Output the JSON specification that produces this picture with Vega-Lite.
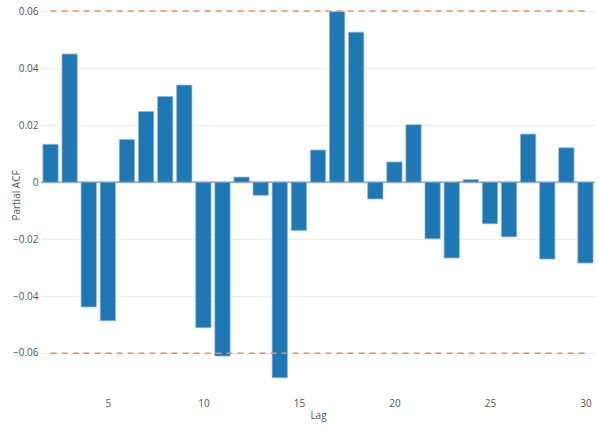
{
  "$schema": "https://vega.github.io/schema/vega-lite/v6.json",
  "autosize": {"type": "none"},
  "width": 554,
  "height": 390,
  "padding": {"left": 41, "top": 0, "right": 5, "bottom": 40},
  "background": "white",
  "config": {
    "view": {"stroke": null},
    "font": "Open Sans",
    "axis": {"labelColor": "#555", "titleColor": "#555", "labelFontSize": 10, "titleFontSize": 10, "titleFontWeight": "normal", "domain": false, "ticks": false}
  },
  "datasets": {
    "pacf": [
      {"lag": 2, "value": 0.0133},
      {"lag": 3, "value": 0.045},
      {"lag": 4, "value": -0.0438},
      {"lag": 5, "value": -0.0487},
      {"lag": 6, "value": 0.015},
      {"lag": 7, "value": 0.0248},
      {"lag": 8, "value": 0.0301},
      {"lag": 9, "value": 0.0341},
      {"lag": 10, "value": -0.0511},
      {"lag": 11, "value": -0.0611},
      {"lag": 12, "value": 0.0018},
      {"lag": 13, "value": -0.0046},
      {"lag": 14, "value": -0.0687},
      {"lag": 15, "value": -0.017},
      {"lag": 16, "value": 0.0113},
      {"lag": 17, "value": 0.0599},
      {"lag": 18, "value": 0.0527},
      {"lag": 19, "value": -0.0059},
      {"lag": 20, "value": 0.0071},
      {"lag": 21, "value": 0.0202},
      {"lag": 22, "value": -0.0199},
      {"lag": 23, "value": -0.0266},
      {"lag": 24, "value": 0.0009},
      {"lag": 25, "value": -0.0146},
      {"lag": 26, "value": -0.0192},
      {"lag": 27, "value": 0.0169},
      {"lag": 28, "value": -0.027},
      {"lag": 29, "value": 0.0121},
      {"lag": 30, "value": -0.0284}
    ],
    "bounds": [
      {"start": 2, "end": 30, "y": 0.0601},
      {"start": 2, "end": 30, "y": -0.0601}
    ],
    "zero": [{"y": 0}]
  },
  "layer": [
    {
      "data": {"name": "zero"},
      "mark": {"type": "rule", "color": "#b0b0b0", "strokeWidth": 2},
      "encoding": {
        "y": {"field": "y", "type": "quantitative", "scale": {"domain": [-0.073, 0.064], "nice": false}}
      }
    },
    {
      "data": {"name": "pacf"},
      "mark": {"type": "bar", "size": 15.3, "color": "#1f77b4", "stroke": "#8fb8dc", "strokeWidth": 0.7},
      "encoding": {
        "x": {"field": "lag", "type": "quantitative", "title": "Lag",
              "scale": {"domain": [1.5, 30.5], "nice": false, "zero": false, "padding": 0},
              "axis": {"values": [5, 10, 15, 20, 25, 30], "grid": false, "labelPadding": 8, "titlePadding": 2}},
        "y": {"field": "value", "type": "quantitative", "title": "Partial ACF",
              "scale": {"domain": [-0.073, 0.064], "nice": false, "padding": 0},
              "axis": {"values": [-0.06, -0.04, -0.02, 0, 0.02, 0.04, 0.06], "format": ".2~f", "gridColor": "#eeeeee", "labelPadding": 3, "titlePadding": -9}}
      }
    },
    {
      "data": {"name": "bounds"},
      "mark": {"type": "rule", "color": "#ef8a5a", "strokeWidth": 1.5, "strokeDash": [6, 5]},
      "encoding": {
        "x": {"field": "start", "type": "quantitative"},
        "x2": {"field": "end"},
        "y": {"field": "y", "type": "quantitative"}
      }
    }
  ]
}
